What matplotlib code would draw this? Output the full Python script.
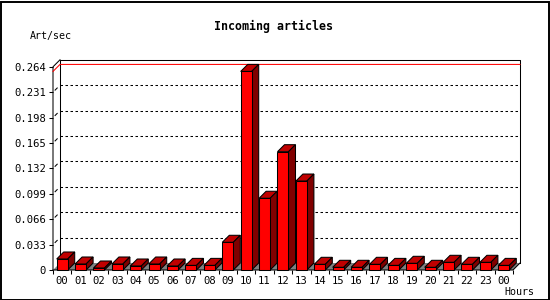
import matplotlib
matplotlib.use("Agg")
import matplotlib.pyplot as plt
from matplotlib.patches import Polygon, Rectangle

# ---- data ----
hour_labels = ["00", "01", "02", "03", "04", "05", "06", "07", "08", "09",
               "10", "11", "12", "13", "14", "15", "16", "17", "18", "19",
               "20", "21", "22", "23", "00"]
art_per_sec = [0.0143, 0.0078, 0.0026, 0.0078, 0.0052, 0.0078, 0.0052, 0.0060,
               0.0060, 0.0360, 0.2580, 0.0932, 0.1537, 0.1156, 0.0074, 0.0035,
               0.0035, 0.0074, 0.0060, 0.0087, 0.0035, 0.0100, 0.0074, 0.0100,
               0.0060]
y_ticks = [0, 0.033, 0.066, 0.099, 0.132, 0.165, 0.198, 0.231, 0.264]
y_tick_labels = ["0", "0.033", "0.066", "0.099", "0.132", "0.165", "0.198", "0.231", "0.264"]
title = "Incoming articles"
y_title = "Art/sec"
x_title = "Hours"

# ---- geometry (pixels) ----
W, H = 550, 300
PX_X = 18.4                 # pixels per hour slot
PX_Y = 25.4 / 0.033         # pixels per unit value
DEPTH = 7.0                 # 3-D depth in pixels
front_left, front_base = 53.0, 270.0
ymax = y_ticks[-1]
n = len(art_per_sec)
xmin, xmax_front = -0.5, n - 0.5

ax_w_px = (xmax_front - xmin) * PX_X + DEPTH
ax_h_px = ymax * PX_Y + DEPTH
dx = DEPTH / PX_X
dy = DEPTH / PX_Y

fig = plt.figure(figsize=(W / 100, H / 100), dpi=100)
fig.patch.set_facecolor("white")
ax = fig.add_axes([front_left / W, (H - front_base) / H, ax_w_px / W, ax_h_px / H])
ax.set_xlim(xmin, xmin + ax_w_px / PX_X)
ax.set_ylim(0, ymax + dy)
ax.set_facecolor("none")
for s in ax.spines.values():
    s.set_visible(False)

lw = 0.75
mono = "DejaVu Sans Mono"

# back wall
ax.add_patch(Rectangle((xmin + dx, dy), xmax_front - xmin, ymax, facecolor="white",
                       edgecolor="none", zorder=1))
for v in y_ticks[1:-1]:
    ax.plot([xmin + dx, xmax_front + dx], [v + dy, v + dy], color="black", lw=lw,
            dashes=(2.4, 2.4), zorder=2)
    # small mark on the left wall
    ax.plot([xmin + dx * 0.3, xmin + dx * 0.6], [v + dy * 0.3, v + dy * 0.6],
            color="black", lw=lw, zorder=2)
# wall outlines
ax.plot([xmin + dx, xmin + dx, xmax_front + dx, xmax_front + dx],
        [dy, ymax + dy, ymax + dy, dy], color="black", lw=lw, zorder=3, clip_on=False)
ax.plot([xmin, xmin, xmin + dx], [0, ymax, ymax + dy], color="black", lw=lw, zorder=3,
        clip_on=False)

# floor
ax.add_patch(Polygon([(xmin, 0), (xmax_front, 0), (xmax_front + dx, dy), (xmin + dx, dy)],
                     closed=True, facecolor="#808080", edgecolor="none", zorder=3))
ax.plot([xmin, xmax_front, xmax_front + dx], [0, 0, dy], color="black", lw=lw, zorder=3,
        clip_on=False)

# max line
vmax = max(art_per_sec)
ax.plot([xmin, xmin + dx, xmax_front + dx], [vmax, vmax + dy, vmax + dy], color="red",
        lw=lw, zorder=4, clip_on=False)

# bars
bw = 11.0 / PX_X
xs = list(range(n))
ax.bar(xs, art_per_sec, width=bw, color="#ff0000", edgecolor="black", linewidth=lw, zorder=6,
       clip_on=False)
for x, v in zip(xs, art_per_sec):
    x0, x1 = x - bw / 2, x + bw / 2
    ax.add_patch(Polygon([(x0, v), (x1, v), (x1 + dx, v + dy), (x0 + dx, v + dy)], closed=True,
                         facecolor="#c00000", edgecolor="black", lw=lw, zorder=5,
                         clip_on=False))
    ax.add_patch(Polygon([(x1, 0), (x1, v), (x1 + dx, v + dy), (x1 + dx, dy)], closed=True,
                         facecolor="#800000", edgecolor="black", lw=lw, zorder=5,
                         clip_on=False))

# ticks
ax.set_yticks(y_ticks)
ax.set_yticklabels(y_tick_labels, fontfamily=mono, fontsize=7.6)
ax.tick_params(axis="y", direction="out", length=3, width=lw, pad=2, colors="black")
ax.set_xticks(xs)
ax.set_xticklabels(hour_labels, fontfamily=mono, fontsize=7.6)
ax.set_xticks([i - 0.5 for i in range(n + 1)], minor=True)
ax.tick_params(axis="x", which="major", length=0, pad=4.5)
ax.tick_params(axis="x", which="minor", direction="out", length=3, width=lw)

# titles
fig.text(273.5 / W, 1 - 26.5 / H, title, ha="center", va="center", fontfamily=mono,
         fontweight="bold", fontsize=8.4)
fig.text(30 / W, 1 - 36.5 / H, y_title, ha="left", va="center", fontfamily=mono, fontsize=7.2)
fig.text(519 / W, 1 - 292 / H, x_title, ha="center", va="center", fontfamily=mono, fontsize=7.2)

# outer border
fig.patches.append(Rectangle((0.5 / W, 0.5 / H), (W - 2.0) / W, (H - 2.0) / H,
                             transform=fig.transFigure, fill=False, edgecolor="black",
                             linewidth=1.4))

fig.savefig("out.png", dpi=100)
